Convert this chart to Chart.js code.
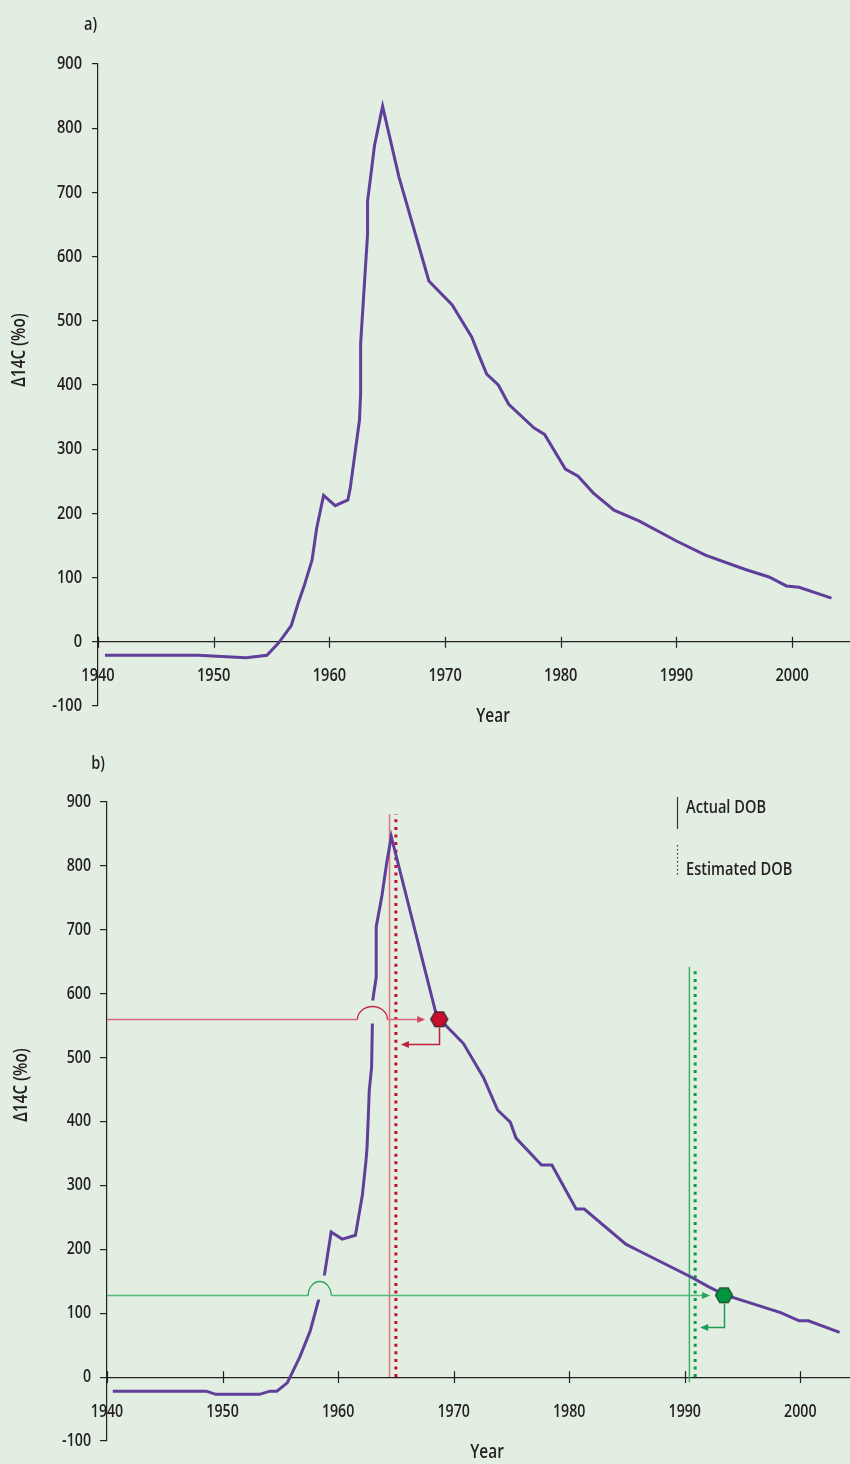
<!DOCTYPE html>
<html>
<head>
<meta charset="utf-8">
<script src="https://cdn.jsdelivr.net/npm/chart.js@4.4.1/dist/chart.umd.min.js"></script>
<style>
html,body{margin:0;padding:0;background:#e2eee2;width:850px;height:1464px;overflow:hidden;}
#wrapA{position:absolute;left:0;top:0;width:850px;height:740px;}
#wrapB{position:absolute;left:0;top:740px;width:850px;height:724px;}
canvas{display:block;}
</style>
</head>
<body>
<div id="wrapA"><canvas id="chartA" width="850" height="740" data-narrow="1"></canvas></div>
<div id="wrapB"><canvas id="chartB" width="850" height="724" data-narrow="1"></canvas></div>
<script>
// ---------------- DATA ----------------
// Panel a) atmospheric Δ14C curve
const yearsA = [1940.6, 1948.6, 1952.8, 1954.6, 1955.6, 1956.7, 1957.3, 1957.8, 1958.5, 1958.9, 1959.5, 1960.5, 1961.6, 1961.8, 1962.6, 1962.7, 1962.7, 1963.3, 1963.3, 1963.6, 1963.9, 1964.6, 1966.0, 1968.6, 1970.6, 1972.3, 1973.0, 1973.6, 1974.6, 1975.5, 1977.7, 1978.6, 1980.4, 1981.5, 1982.8, 1984.6, 1986.8, 1990.0, 1992.5, 1995.9, 1998.0, 1999.5, 2000.6, 2003.4];
const valuesA = [-21, -21, -25, -21, -2, 25, 60, 86, 127, 177, 228, 212, 221, 239, 345, 387, 464, 635, 687, 729, 773, 834, 725, 562, 525, 475, 443, 417, 400, 370, 333, 323, 269, 258, 232, 205, 188, 157, 135, 113, 101, 87, 85, 68];

// Panel b) atmospheric Δ14C curve
const yearsB = [1940.5, 1948.6, 1949.4, 1953.2, 1954.1, 1954.7, 1955.6, 1956.7, 1957.6, 1958.3, 1958.8, 1959.4, 1960.35, 1961.5, 1962.1, 1962.4, 1962.5, 1962.6, 1962.7, 1962.9, 1963.0, 1963.3, 1963.3, 1963.8, 1964.2, 1964.6, 1968.4, 1968.8, 1970.85, 1972.6, 1973.8, 1974.9, 1975.4, 1977.6, 1978.5, 1980.6, 1981.3, 1984.9, 1986.1, 1990.5, 1992.0, 1993.4, 1998.3, 1999.9, 2000.7, 2003.4];
const valuesB = [-22, -22, -27, -27, -22, -22, -9, 32, 73, 120, 158, 227, 216, 222, 285, 336, 358, 402, 449, 485, 590, 626, 705, 754, 804, 846, 574, 560, 522, 468, 418, 399, 374, 332, 332, 263, 263, 208, 197, 157, 142, 129, 101, 88, 88, 70];

// Panel b) samples
const sampleValue  = [560, 128];        // measured Δ14C
const sampleYear   = [1968.75, 1993.4]; // year on the falling limb (hexagon)
const actualDOB    = [1964.45, 1990.4];
const estimatedDOB = [1965.0, 1990.9];
const dobLineTop   = [881, 642];
const dobLineBottom = [0, -8];

// Axis ticks
const xTickLabels = [1940, 1950, 1960, 1970, 1980, 1990, 2000];
const yTickLabels = [-100, 0, 100, 200, 300, 400, 500, 600, 700, 800, 900];
const xMin = 1940;
const xMaxA = 2005, xMaxB = 2004.3;

// Texts
const yTitle = 'Δ14C (%o)';
const xTitle = 'Year';
const legendLabels = ['Actual DOB', 'Estimated DOB'];

// ---------------- CONDENSED TEXT (horizontal squeeze of real canvas text) ----------------
const NARROW = 0.81;
(function () {
  const P = CanvasRenderingContext2D.prototype;
  const origFill = P.fillText;
  const origMeasure = P.measureText;
  P.fillText = function (text, x, y, maxWidth) {
    if (!(this.canvas && this.canvas.dataset && this.canvas.dataset.narrow)) {
      return origFill.apply(this, arguments);
    }
    this.save();
    this.translate(x, y);
    this.scale(NARROW, 1);
    if (maxWidth !== undefined) origFill.call(this, text, 0, 0, maxWidth / NARROW);
    else origFill.call(this, text, 0, 0);
    this.restore();
  };
  P.measureText = function (text) {
    const m = origMeasure.call(this, text);
    if (!(this.canvas && this.canvas.dataset && this.canvas.dataset.narrow)) return m;
    return {width: m.width * NARROW, actualBoundingBoxAscent: m.actualBoundingBoxAscent,
            actualBoundingBoxDescent: m.actualBoundingBoxDescent};
  };
})();

// ---------------- STYLE ----------------
const FONT = "'Open Sans', 'Liberation Sans', sans-serif";
const WEIGHT = '600';
function fnt(size) { return WEIGHT + ' ' + size + 'px ' + FONT; }
const BG = '#e2eee2';
const TEXT = '#231f20';
const AXIS = '#231f20';
const PURPLE = '#5f3f99';
const SAMPLE_STYLES = [
  {hexFill:'#c8102e', hexStroke:'#3a2228', line:'#da6878', arch:'#cc2a48', arrow:'#d24a62', ret:'#bf1e3c',
   actual:'#e0707e', est:'#c8102e', rx:15, ry:13, drop:25},
  {hexFill:'#00963f', hexStroke:'#1e4a2c', line:'#52b878', arch:'#2aa55a', arrow:'#2aa55a', ret:'#1f9d52',
   actual:'#3db36a', est:'#0a9a4a', rx:11.5, ry:14, drop:32}
];

function makeHex(fill, stroke, r) {
  const c = document.createElement('canvas');
  const lw = 1.3;
  const w = Math.ceil(2*r + 2*lw + 2), h = Math.ceil(Math.sqrt(3)*r + 2*lw + 2);
  c.width = w; c.height = h;
  const g = c.getContext('2d');
  g.beginPath();
  for (let k = 0; k < 6; k++) {
    const a = k*Math.PI/3;
    const px = w/2 + r*Math.cos(a), py = h/2 + r*Math.sin(a);
    if (k) g.lineTo(px, py); else g.moveTo(px, py);
  }
  g.closePath();
  g.fillStyle = fill; g.fill();
  g.lineWidth = lw; g.strokeStyle = stroke; g.stroke();
  return c;
}

function toPoints(xs, ys) { return xs.map((x, i) => ({x: x, y: ys[i]})); }

// year where the rising limb of the curve reaches a value
function risingCross(xs, ys, val) {
  let peak = 0;
  ys.forEach((v, i) => { if (v > ys[peak]) peak = i; });
  for (let i = 0; i < peak; i++) {
    if (ys[i] <= val && ys[i+1] >= val) {
      const t = (val - ys[i]) / (ys[i+1] - ys[i]);
      return xs[i] + t*(xs[i+1] - xs[i]);
    }
  }
  return xs[0];
}

const panelText = {
  id: 'panelText',
  afterDraw(chart, args, o) {
    const ctx = chart.ctx;
    const xs = chart.scales.x, ys = chart.scales.y;
    const y0 = ys.getPixelForValue(0);
    ctx.save();
    ctx.strokeStyle = AXIS; ctx.lineWidth = 1.2;
    xs.ticks.forEach(t => {
      const px = Math.round(xs.getPixelForValue(t.value)) + 0.5;
      ctx.beginPath(); ctx.moveTo(px, y0 - o.tickUp); ctx.lineTo(px, y0 + o.tickDown); ctx.stroke();
    });
    ctx.fillStyle = TEXT;
    ctx.textAlign = 'center'; ctx.textBaseline = 'middle';
    ctx.font = fnt(18);
    ctx.fillText(o.letter, o.letterX, o.letterY);
    ctx.font = fnt(19);
    ctx.fillText(xTitle, o.xTitleX, o.xTitleY);
    ctx.font = fnt(19);
    ctx.translate(o.yTitleX, o.yTitleY);
    ctx.rotate(-Math.PI/2);
    ctx.fillText(yTitle, 0, 0);
    ctx.restore();
  }
};

function arrowHead(ctx, tipX, tipY, dir, color) {
  ctx.fillStyle = color;
  ctx.beginPath();
  ctx.moveTo(tipX, tipY);
  ctx.lineTo(tipX - dir*8, tipY - 3.5);
  ctx.lineTo(tipX - dir*8, tipY + 3.5);
  ctx.closePath();
  ctx.fill();
}

const dobAnnotations = {
  id: 'dobAnnotations',
  afterDatasetsDraw(chart) {
    const ctx = chart.ctx, area = chart.chartArea;
    const xs = chart.scales.x, ys = chart.scales.y;
    ctx.save();
    sampleValue.forEach((val, i) => {
      const st = SAMPLE_STYLES[i];
      const yPx = Math.round(ys.getPixelForValue(val)) + 0.5;
      const hexX = xs.getPixelForValue(sampleYear[i]);
      const cx = xs.getPixelForValue(risingCross(yearsB, valuesB, val));
      const estX = xs.getPixelForValue(estimatedDOB[i]);
      // gap in the curve under the bridge
      ctx.fillStyle = BG;
      ctx.fillRect(cx - st.rx + 2, yPx - st.ry - 6, 2*st.rx - 4, st.ry + 10);
      // horizontal line up to the bridge
      ctx.lineWidth = 1.5;
      ctx.strokeStyle = st.line;
      ctx.beginPath(); ctx.moveTo(area.left, yPx); ctx.lineTo(cx - st.rx, yPx); ctx.stroke();
      // bridge over the curve
      ctx.strokeStyle = st.arch; ctx.lineWidth = 1.3;
      ctx.beginPath(); ctx.ellipse(cx, yPx, st.rx, st.ry, 0, Math.PI, 2*Math.PI, false); ctx.stroke();
      // continuing line to the hexagon with arrow
      const tip = hexX - 14;
      ctx.strokeStyle = st.line; ctx.lineWidth = 1.5;
      ctx.beginPath(); ctx.moveTo(cx + st.rx, yPx); ctx.lineTo(tip - 6, yPx); ctx.stroke();
      arrowHead(ctx, tip, yPx, 1, st.arrow);
      // return arrow to the estimated DOB
      const yDrop = yPx + st.drop;
      const tip2 = estX + 5;
      ctx.strokeStyle = st.ret; ctx.lineWidth = 1.5;
      ctx.beginPath();
      ctx.moveTo(Math.round(hexX) + 0.5, yPx + 8);
      ctx.lineTo(Math.round(hexX) + 0.5, yDrop);
      ctx.lineTo(tip2 + 6, yDrop);
      ctx.stroke();
      arrowHead(ctx, tip2, yDrop, -1, st.ret);
    });
    ctx.restore();
  },
  afterDraw(chart, args, o) {
    const ctx = chart.ctx;
    ctx.save();
    ctx.strokeStyle = '#333'; ctx.lineWidth = 1.2;
    ctx.beginPath(); ctx.moveTo(o.x + 0.5, o.solidTop); ctx.lineTo(o.x + 0.5, o.solidBottom); ctx.stroke();
    ctx.setLineDash([1.4, 2.6]);
    ctx.beginPath(); ctx.moveTo(o.x + 0.5, o.dotTop); ctx.lineTo(o.x + 0.5, o.dotBottom); ctx.stroke();
    ctx.setLineDash([]);
    ctx.fillStyle = TEXT; ctx.font = fnt(18);
    ctx.textAlign = 'left'; ctx.textBaseline = 'middle';
    ctx.fillText(legendLabels[0], o.textX, o.text1Y);
    ctx.fillText(legendLabels[1], o.textX, o.text2Y);
    ctx.restore();
  }
};

function makeScales(xMax, yWidth, fontSize, yTickLen, yPad, xPad) {
  const f = {family: FONT, size: fontSize, weight: WEIGHT};
  return {
    x: {
      type: 'linear', min: xMin, max: xMax, position: {y: 0},
      ticks: {color: TEXT, font: f, padding: xPad, maxRotation: 0, autoSkip: false, callback: v => String(v)},
      grid: {drawOnChartArea: false, drawTicks: false},
      border: {display: true, color: AXIS, width: 1.2},
      afterBuildTicks: s => { s.ticks = xTickLabels.map(v => ({value: v})); }
    },
    y: {
      type: 'linear', min: yTickLabels[0], max: yTickLabels[yTickLabels.length - 1], position: 'left',
      ticks: {color: TEXT, font: f, padding: yPad, callback: v => String(v)},
      grid: {drawOnChartArea: false, drawTicks: true, tickLength: yTickLen, color: AXIS, lineWidth: 1.2},
      border: {display: true, color: AXIS, width: 1.2},
      afterBuildTicks: s => { s.ticks = yTickLabels.map(v => ({value: v})); },
      afterFit: s => { s.width = yWidth; }
    }
  };
}

// ---------------- CHART A ----------------
new Chart(document.getElementById('chartA'), {
  type: 'scatter',
  data: {
    datasets: [{
      label: 'Δ14C', data: toPoints(yearsA, valuesA), showLine: true,
      borderColor: PURPLE, borderWidth: 3, pointRadius: 0, tension: 0, borderJoinStyle: 'miter'
    }]
  },
  options: {
    responsive: false, animation: false, events: [],
    layout: {autoPadding: false, padding: {top: 64, right: 0, bottom: 34, left: 0}},
    scales: makeScales(xMaxA, 98, 18, 6, 10, 23),
    plugins: {
      legend: {display: false}, tooltip: {enabled: false},
      panelText: {letter: 'a)', letterX: 90.5, letterY: 25, xTitleX: 493, xTitleY: 717,
                  yTitleX: 20, yTitleY: 350, tickUp: 5, tickDown: 6}
    }
  },
  plugins: [panelText]
});

// ---------------- CHART B ----------------
const hexImgs = SAMPLE_STYLES.map(s => makeHex(s.hexFill, s.hexStroke, 8.5));
const datasetsB = [
  {label: 'samples', data: toPoints(sampleYear, sampleValue), showLine: false,
   pointStyle: hexImgs, pointRadius: 9, order: 0},
  {label: 'Δ14C', data: toPoints(yearsB, valuesB), showLine: true, borderColor: PURPLE,
   borderWidth: 3, pointRadius: 0, tension: 0, order: 1, borderJoinStyle: 'miter'}
];
actualDOB.forEach((yr, i) => {
  datasetsB.push({label: legendLabels[0], data: [{x: yr, y: dobLineBottom[i]}, {x: yr, y: dobLineTop[i]}], showLine: true,
    borderColor: SAMPLE_STYLES[i].actual, borderWidth: 1.5, pointRadius: 0, order: 2});
});
estimatedDOB.forEach((yr, i) => {
  datasetsB.push({label: legendLabels[1], data: [{x: yr, y: 0}, {x: yr, y: dobLineTop[i]}], showLine: true,
    borderColor: SAMPLE_STYLES[i].est, borderWidth: 3, borderDash: [3, 4.6], borderCapStyle: 'butt',
    pointRadius: 0, order: 2});
});

new Chart(document.getElementById('chartB'), {
  type: 'scatter',
  data: {datasets: datasetsB},
  options: {
    responsive: false, animation: false, events: [],
    layout: {autoPadding: false, padding: {top: 62, right: 0, bottom: 23, left: 0}},
    scales: makeScales(xMaxB, 107, 17.5, 7, 9, 24),
    plugins: {
      legend: {display: false}, tooltip: {enabled: false},
      panelText: {letter: 'b)', letterX: 98, letterY: 23.5, xTitleX: 487, xTitleY: 713,
                  yTitleX: 22, yTitleY: 345, tickUp: 6, tickDown: 6},
      dobAnnotations: {x: 677, solidTop: 57, solidBottom: 89, dotTop: 105, dotBottom: 137,
                       textX: 686, text1Y: 68, text2Y: 130}
    }
  },
  plugins: [panelText, dobAnnotations]
});
</script>
</body>
</html>
